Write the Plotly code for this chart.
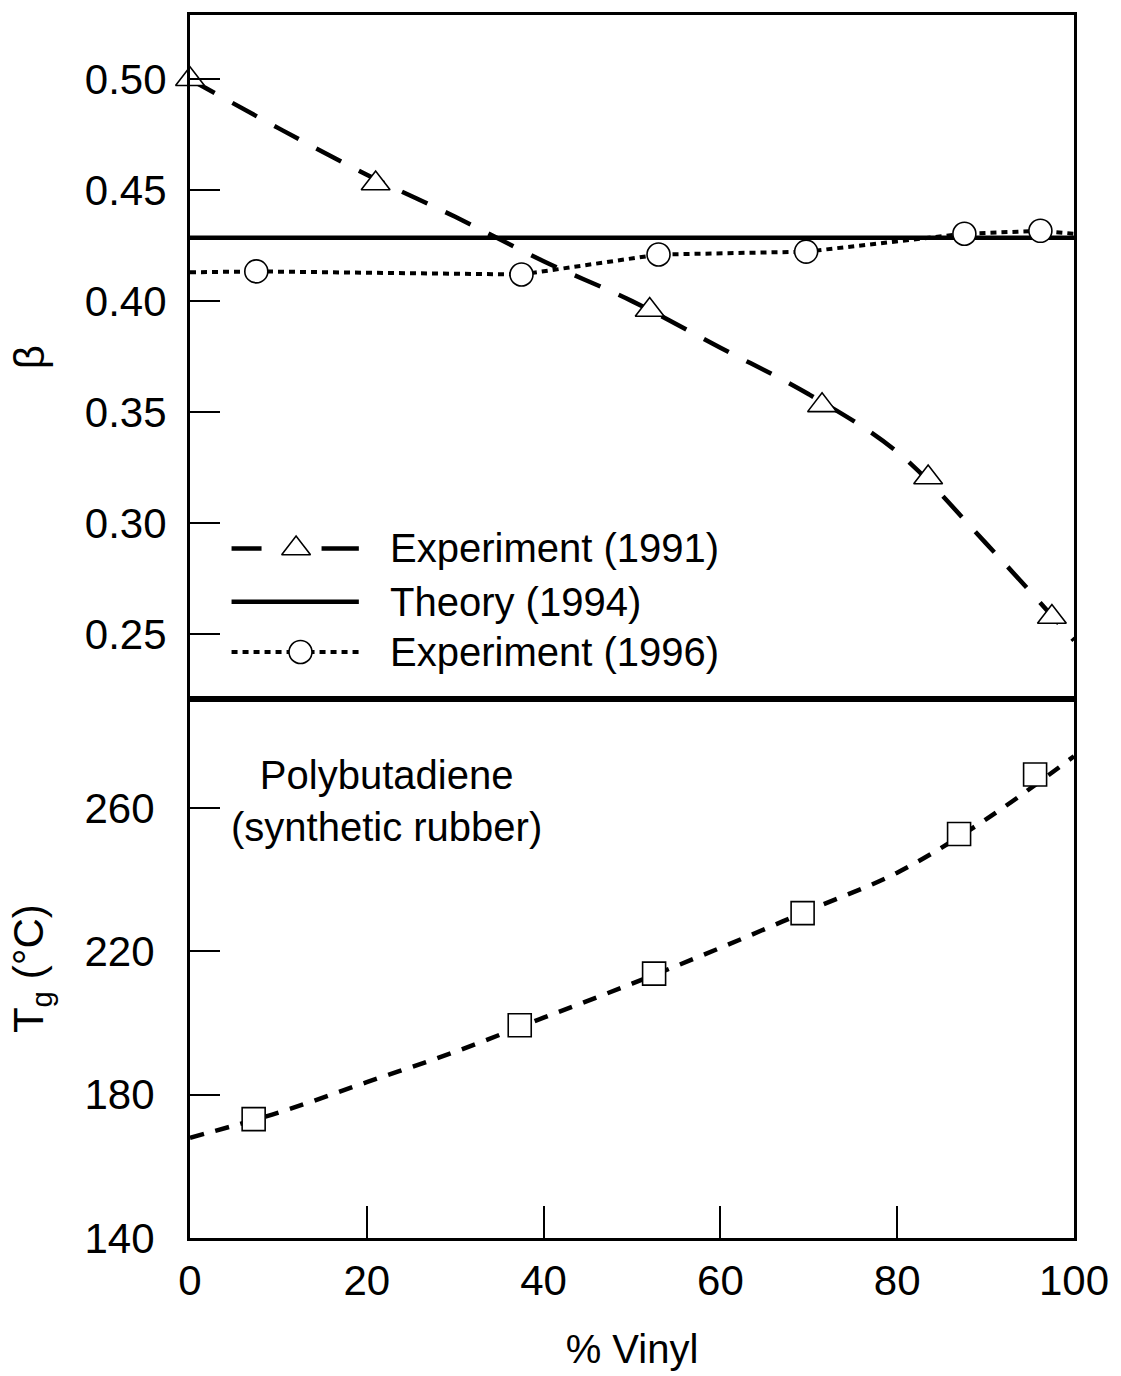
import plotly.graph_objects as go
from plotly.subplots import make_subplots

# ---------------- data ----------------
# beta panel: Experiment (1991) points and fitted dashed curve
exp91_x = [0, 21, 52, 71.5, 83.5, 97.5]
exp91_y = [0.500, 0.453, 0.396, 0.353, 0.3205, 0.2576]
exp91_fit_x = [0, 10, 20, 30, 40, 50, 60, 70, 80, 90, 100]
exp91_fit_y = [0.500, 0.478, 0.457, 0.438, 0.418, 0.400, 0.379, 0.358, 0.332, 0.291, 0.247]

# Theory (1994)
theory_x = [0, 100]
theory_y = [0.4286, 0.4286]

# Experiment (1996) points and dotted line
exp96_x = [7.5, 37.5, 53, 69.7, 87.6, 96.2]
exp96_y = [0.4134, 0.412, 0.421, 0.4223, 0.4304, 0.4317]
exp96_line_x = [0, 7.5, 37.5, 53, 69.7, 87.6, 96.2, 100]
exp96_line_y = [0.413, 0.4134, 0.412, 0.421, 0.4223, 0.4304, 0.4317, 0.4304]

# Tg panel
tg_x = [7.2, 37.3, 52.5, 69.3, 87, 95.6]
tg_y = [173.2, 199.4, 213.8, 230.7, 252.8, 269.4]
tg_fit_x = [0, 10, 20, 30, 40, 50, 60, 70, 80, 90, 100]
tg_fit_y = [168, 175, 183.5, 192, 201.5, 211, 221, 231.5, 242, 256.8, 274.5]

beta_ticks = [0.25, 0.30, 0.35, 0.40, 0.45, 0.50]
beta_ticklabels = ["0.25", "0.30", "0.35", "0.40", "0.45", "0.50"]
tg_ticks = [140, 180, 220, 260]
x_ticks = [0, 20, 40, 60, 80, 100]

legend_names = ["Experiment (1991)", "Theory (1994)", "Experiment (1996)"]

# ---------------- styling ----------------
FONT = "Liberation Sans, Arial, Helvetica, sans-serif"
BLACK = "black"
TICKFONT = 42
LW = 3
DLW = 4.5

fig = make_subplots(rows=2, cols=1, shared_xaxes=True, vertical_spacing=0,
                    row_heights=[0.5595, 0.4405])

# Experiment 1991
fig.add_trace(go.Scatter(x=exp91_fit_x, y=exp91_fit_y, mode="lines",
                         line=dict(color=BLACK, width=DLW, dash="28px,20px", shape="spline"),
                         showlegend=False, hoverinfo="skip"), row=1, col=1)
fig.add_trace(go.Scatter(x=exp91_x, y=exp91_y, mode="markers",
                         marker=dict(symbol="triangle-up", size=25, color="white",
                                     line=dict(color=BLACK, width=1.6)),
                         cliponaxis=False, showlegend=False), row=1, col=1)
# Theory
fig.add_trace(go.Scatter(x=theory_x, y=theory_y, mode="lines",
                         line=dict(color=BLACK, width=DLW),
                         showlegend=False, hoverinfo="skip"), row=1, col=1)
# Experiment 1996
fig.add_trace(go.Scatter(x=exp96_line_x, y=exp96_line_y, mode="lines",
                         line=dict(color=BLACK, width=4, dash="6px,5px"),
                         showlegend=False, hoverinfo="skip"), row=1, col=1)
fig.add_trace(go.Scatter(x=exp96_x, y=exp96_y, mode="markers",
                         marker=dict(symbol="circle", size=23, color="white",
                                     line=dict(color=BLACK, width=1.6)),
                         cliponaxis=False, showlegend=False), row=1, col=1)

# Tg
fig.add_trace(go.Scatter(x=tg_fit_x, y=tg_fit_y, mode="lines",
                         line=dict(color=BLACK, width=DLW, dash="14px,12px", shape="spline"),
                         showlegend=False, hoverinfo="skip"), row=2, col=1)
fig.add_trace(go.Scatter(x=tg_x, y=tg_y, mode="markers",
                         marker=dict(symbol="square", size=23, color="white",
                                     line=dict(color=BLACK, width=1.6)),
                         cliponaxis=False, showlegend=False), row=2, col=1)

# ---------------- manual legend (samples in top panel axis units) ----------------
LEG_X0, LEG_XM, LEG_X1 = 4.7, 12.0, 19.1
LEG_ROWS = [0.2885, 0.2645, 0.2418]
LEG_TEXT_X = 22.4

fig.add_trace(go.Scatter(x=[LEG_X0, LEG_X1], y=[LEG_ROWS[0]] * 2, mode="lines",
                         line=dict(color=BLACK, width=DLW, dash="30px,60px,40px,100px"),
                         showlegend=False, hoverinfo="skip"), row=1, col=1)
fig.add_trace(go.Scatter(x=[LEG_XM], y=[LEG_ROWS[0]], mode="markers",
                         marker=dict(symbol="triangle-up", size=25, color="white",
                                     line=dict(color=BLACK, width=1.6)),
                         showlegend=False, hoverinfo="skip"), row=1, col=1)
fig.add_trace(go.Scatter(x=[LEG_X0, LEG_X1], y=[LEG_ROWS[1]] * 2, mode="lines",
                         line=dict(color=BLACK, width=DLW),
                         showlegend=False, hoverinfo="skip"), row=1, col=1)
fig.add_trace(go.Scatter(x=[LEG_X0, LEG_X1], y=[LEG_ROWS[2]] * 2, mode="lines",
                         line=dict(color=BLACK, width=4, dash="6px,5px"),
                         showlegend=False, hoverinfo="skip"), row=1, col=1)
fig.add_trace(go.Scatter(x=[LEG_XM + 0.5], y=[LEG_ROWS[2]], mode="markers",
                         marker=dict(symbol="circle", size=23, color="white",
                                     line=dict(color=BLACK, width=1.6)),
                         showlegend=False, hoverinfo="skip"), row=1, col=1)
for name, yy in zip(legend_names, LEG_ROWS):
    fig.add_annotation(x=LEG_TEXT_X, y=yy, xref="x", yref="y", text=name,
                       showarrow=False, xanchor="left", yanchor="middle",
                       font=dict(family=FONT, size=40, color=BLACK))

fig.add_annotation(x=0.222, y=0.357, xref="paper", yref="paper",
                   text="Polybutadiene<br>(synthetic rubber)", showarrow=False,
                   xanchor="center", yanchor="middle", align="center",
                   font=dict(family=FONT, size=40, color=BLACK))

# ---------------- axes ----------------
common_x = dict(range=[0, 100], showgrid=False, zeroline=False, showline=True,
                linecolor=BLACK, linewidth=LW, mirror=True)
fig.update_xaxes(**common_x, row=1, col=1, ticks="", showticklabels=False)
fig.update_xaxes(**common_x, row=2, col=1, ticks="inside", ticklen=32, tickwidth=1.5,
                 tickcolor=BLACK, tickvals=x_ticks, ticklabelstandoff=4,
                 tickfont=dict(family=FONT, size=TICKFONT, color=BLACK),
                 title=dict(text="% Vinyl", font=dict(family=FONT, size=40, color=BLACK),
                            standoff=32))

common_y = dict(showgrid=False, zeroline=False, showline=True, linecolor=BLACK,
                linewidth=LW, mirror=True, ticks="inside", ticklen=30, tickwidth=1.5,
                tickcolor=BLACK, tickfont=dict(family=FONT, size=TICKFONT, color=BLACK))
fig.update_yaxes(**common_y, row=1, col=1, range=[0.2205, 0.529],
                 tickvals=beta_ticks, ticktext=beta_ticklabels, ticklabelstandoff=12,
                 title=dict(text="β", font=dict(family=FONT, size=42, color=BLACK), standoff=28))
fig.update_yaxes(**common_y, row=2, col=1, range=[140, 290.4], tickvals=tg_ticks,
                 ticklabelstandoff=24,
                 title=dict(text="T<sub>g</sub> (°C)", font=dict(family=FONT, size=42, color=BLACK),
                            standoff=28))

fig.update_layout(width=1121, height=1376, margin=dict(l=190, r=39, t=15, b=126),
                  plot_bgcolor="white", paper_bgcolor="white", showlegend=False,
                  font=dict(family=FONT, color=BLACK))

fig.write_html("out.html")
